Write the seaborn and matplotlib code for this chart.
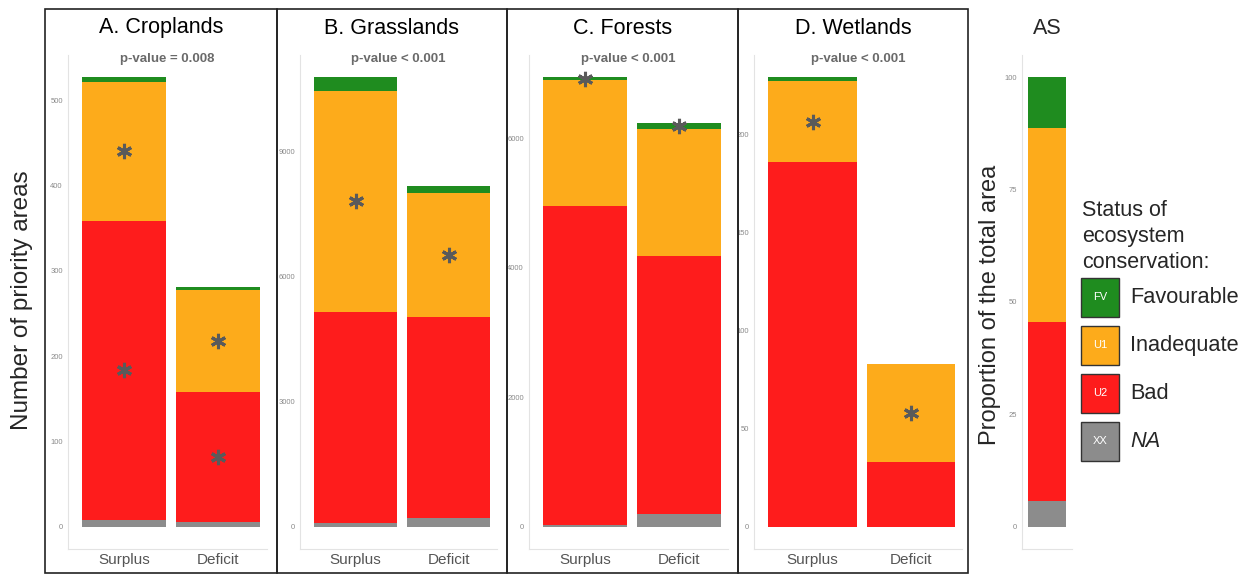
"""
Status of ecosystem conservation in priority areas (surplus vs deficit)
"""

import numpy as np
import pandas as pd
import matplotlib
matplotlib.use("Agg")
import matplotlib.pyplot as plt
from matplotlib.patches import Rectangle
import seaborn as sns

# ============================================================
# Data
# ============================================================
periods = ["Surplus", "Deficit"]
status_codes = ["FV", "U1", "U2", "XX"]
status_labels = ["Favourable", "Inadequate", "Bad", "NA"]

crop_fv = [5, 4]
crop_u1 = [163, 119]
crop_u2 = [351, 153]
crop_na = [8, 5]

grass_fv = [319, 162]
grass_u1 = [5311, 2976]
grass_u2 = [5065, 4826]
grass_na = [90, 207]

forest_fv = [35, 92]
forest_u1 = [1947, 1965]
forest_u2 = [4937, 3982]
forest_na = [20, 193]

wet_fv = [2, 0]
wet_u1 = [41, 50]
wet_u2 = [186, 33]
wet_na = [0, 0]

as_fv = [11.2]
as_u1 = [43.2]
as_u2 = [39.9]
as_na = [5.7]

panel_titles = ["A. Croplands", "B. Grasslands", "C. Forests", "D. Wetlands"]
pvalues = ["p-value = 0.008", "p-value < 0.001", "p-value < 0.001", "p-value < 0.001"]
yticks_list = [[0, 100, 200, 300, 400, 500],
               [0, 3000, 6000, 9000],
               [0, 2000, 4000, 6000],
               [0, 50, 100, 150, 200]]
as_yticks = [0, 25, 50, 75, 100]

# significant segments: (period index, status) -> star
stars = [
    [(0, "U1"), (0, "U2"), (1, "U1"), (1, "U2")],
    [(0, "U1"), (1, "U1")],
    [(0, "FV"), (1, "FV")],
    [(0, "U1"), (1, "U1")],
]

colors = {"FV": "#1f8c1f", "U1": "#fdab1b", "U2": "#fe1c1c", "XX": "#8c8c8c"}

panels = [
    dict(FV=crop_fv, U1=crop_u1, U2=crop_u2, XX=crop_na),
    dict(FV=grass_fv, U1=grass_u1, U2=grass_u2, XX=grass_na),
    dict(FV=forest_fv, U1=forest_u1, U2=forest_u2, XX=forest_na),
    dict(FV=wet_fv, U1=wet_u1, U2=wet_u2, XX=wet_na),
]

# ============================================================
# Style
# ============================================================
sns.set_theme(style="white")
plt.rcParams["font.family"] = ["Liberation Sans", "DejaVu Sans"]

W, H = 1247, 575
fig = plt.figure(figsize=(W / 100, H / 100), dpi=100)


def px_axes(x0, x1, y_top, y_bot):
    return fig.add_axes([x0 / W, 1 - y_bot / H, (x1 - x0) / W, (y_bot - y_top) / H])


def stacked(ax, d, xcats, width=0.9):
    # order from bottom to top: XX, U2, U1, FV
    stack_order = ["XX", "U2", "U1", "FV"]
    df = pd.DataFrame(d, index=xcats)[stack_order]
    cum = df.cumsum(axis=1)
    # draw tallest first, then overlay smaller cumulative bars
    for s in reversed(stack_order):
        sns.barplot(x=xcats, y=cum[s].values, color=colors[s], width=width,
                    saturation=1, linewidth=0, ax=ax, order=xcats)
    return df, cum


def style_axes(ax, yticks, ymax):
    ax.set_ylim(-0.05 * ymax, 1.05 * ymax)
    ax.set_yticks(yticks)
    ax.set_yticklabels([str(t) for t in yticks])
    for side in ["top", "right"]:
        ax.spines[side].set_visible(False)
    for side in ["left", "bottom"]:
        ax.spines[side].set_color("#e3e3e3")
        ax.spines[side].set_linewidth(0.8)
    ax.tick_params(axis="y", labelsize=5.5, labelcolor="#8a8a8a", length=1.5,
                   color="#e3e3e3", pad=2)
    ax.tick_params(axis="x", labelsize=11, labelcolor="#555555", length=1.5,
                   color="#e3e3e3", pad=1.5)
    ax.set_xlabel("")
    ax.set_ylabel("")


# panel geometry in pixels: frame x0, frame x1, axes x0, axes x1
geom = [(45, 277, 67.7, 267),
        (277, 507, 299.7, 497),
        (507, 738, 528.7, 728),
        (738, 968, 753.7, 962)]

for i, d in enumerate(panels):
    fx0, fx1, ax0, ax1 = geom[i]
    ax = px_axes(ax0, ax1, 55, 549)
    df, cum = stacked(ax, d, periods)
    ymax = cum["FV"].max()
    style_axes(ax, yticks_list[i], ymax)
    ax.set_xlim(-0.6, 1.52)

    # significance stars at segment middles
    for (pi, s) in stars[i]:
        top = cum[s].iloc[pi]
        mid = top - df[s].iloc[pi] / 2
        ax.plot([pi], [mid], linestyle="none", marker=(6, 2, 0), ms=11,
                mew=2.2, color="#5a5a5a", zorder=5)

    # frame
    fig.patches.append(Rectangle((fx0 / W, 1 - 573 / H), (fx1 - fx0) / W, (573 - 9) / H,
                                 transform=fig.transFigure, fill=False,
                                 edgecolor="#222222", linewidth=1.2))
    fig.text(((fx0 + fx1) / 2) / W, 1 - 28 / H, panel_titles[i], ha="center",
             va="center", fontsize=15.5, color="black")
    fig.text(((ax0 + ax1) / 2) / W, 1 - 59 / H, pvalues[i], ha="center",
             va="center", fontsize=9.5, fontweight="bold", color="#6a6a6a")

fig.text(22 / W, 1 - 300 / H, "Number of priority areas", rotation=90,
         ha="center", va="center", fontsize=17.5)

# ============================================================
# AS panel (proportion of total area)
# ============================================================
ax_as = px_axes(1022, 1072, 55, 549)
df_as, cum_as = stacked(ax_as, dict(FV=as_fv, U1=as_u1, U2=as_u2, XX=as_na), ["AS"])
style_axes(ax_as, as_yticks, 100)
ax_as.set_xlim(-0.6, 0.6)
ax_as.set_xticks([0])
ax_as.set_xticklabels([""])
fig.text(1047 / W, 1 - 28 / H, "AS", ha="center", va="center", fontsize=15.5)
fig.text(990 / W, 1 - 305 / H, "Proportion of the total area", rotation=90,
         ha="center", va="center", fontsize=17)

# ============================================================
# Legend
# ============================================================
fig.text(1082 / W, 1 - 200 / H, "Status of\necosystem\nconservation:", ha="left",
         va="top", fontsize=15.5, linespacing=1.32)
key_tops = [278, 326, 374, 422]
for code, lab, ytop in zip(status_codes, status_labels, key_tops):
    fig.patches.append(Rectangle((1081 / W, 1 - (ytop + 39) / H), 38 / W, 39 / H,
                                 transform=fig.transFigure, facecolor=colors[code],
                                 edgecolor="#333333", linewidth=1.0))
    fig.text(1100 / W, 1 - (ytop + 19.5) / H, code, ha="center", va="center",
             fontsize=8, color="white")
    fig.text(1130 / W, 1 - (ytop + 19.5) / H, lab, ha="left", va="center",
             fontsize=15.7, style="italic" if code == "XX" else "normal")

fig.savefig("out.png", dpi=100)
